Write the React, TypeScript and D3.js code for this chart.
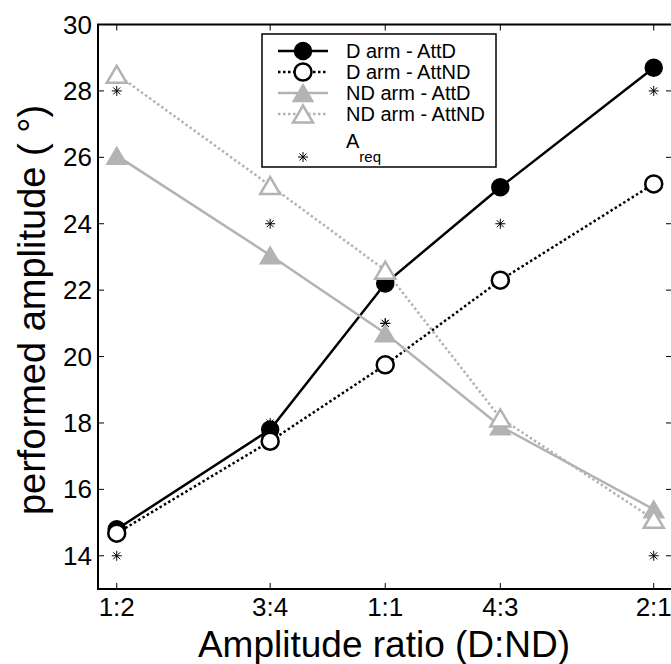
import { useMemo } from "react";
import * as d3 from "d3";

const ratioLabels = ["1:2", "3:4", "1:1", "4:3", "2:1"];
// D / (D + ND) for each ratio; the x axis is linear in this share
const ratioShare = [1 / 3, 3 / 7, 1 / 2, 4 / 7, 2 / 3];

const dArmAttD = [14.8, 17.8, 22.2, 25.1, 28.7];
const dArmAttND = [14.68, 17.45, 19.75, 22.3, 25.2];
const ndArmAttD = [26.05, 23.05, 20.7, 17.9, 15.4];
const ndArmAttND = [28.5, 25.15, 22.6, 18.15, 15.1];
const aReqLow = [14, 18, 21, 24, 28];
const aReqHigh = [28, 24, 21, 18, 14];

const yTicks = [14, 16, 18, 20, 22, 24, 26, 28, 30];

const GRAY = "#b3b3b3";
const FONT = "'Liberation Sans', Arial, Helvetica, sans-serif";

type Marker = "dot" | "circle" | "tri" | "triOpen" | "star";

function MarkerShape({ kind, x, y, color }: { kind: Marker; x: number; y: number; color: string }) {
  if (kind === "dot") return <circle cx={x} cy={y} r={8.5} fill={color} stroke={color} strokeWidth={1.5} />;
  if (kind === "circle") return <circle cx={x} cy={y} r={8.5} fill="#fff" stroke={color} strokeWidth={2.5} />;
  if (kind === "tri" || kind === "triOpen") {
    const h = 8.5;
    const w = 10;
    const p = `M${x},${y - h} L${x + w},${y + h} L${x - w},${y + h} Z`;
    return kind === "tri" ? (
      <path d={p} fill={color} stroke={color} strokeWidth={1.5} />
    ) : (
      <path d={p} fill="#fff" stroke={color} strokeWidth={2.5} />
    );
  }
  // asterisk
  const s = 5;
  return (
    <g stroke={color} strokeWidth={1}>
      <line x1={x - s} y1={y} x2={x + s} y2={y} />
      <line x1={x} y1={y - s} x2={x} y2={y + s} />
      <line x1={x - s * 0.7} y1={y - s * 0.7} x2={x + s * 0.7} y2={y + s * 0.7} />
      <line x1={x - s * 0.7} y1={y + s * 0.7} x2={x + s * 0.7} y2={y - s * 0.7} />
    </g>
  );
}

export default function App() {
  const left = 98;
  const right = 672;
  const top = 24.5;
  const bottom = 589;

  const x = useMemo(() => d3.scaleLinear().domain([0.3217, 0.678]).range([left, right]), []);
  const y = useMemo(() => d3.scaleLinear().domain([13, 30]).range([bottom, top]), []);

  const line = d3
    .line<number>()
    .x((_, i) => x(ratioShare[i]))
    .y((v) => y(v));

  const series: { name: string; values: number[]; color: string; dash?: string; marker: Marker }[] = [
    { name: "D arm - AttD", values: dArmAttD, color: "#000", marker: "dot" },
    { name: "D arm - AttND", values: dArmAttND, color: "#000", dash: "2.5 2.5", marker: "circle" },
    { name: "ND arm - AttD", values: ndArmAttD, color: GRAY, marker: "tri" },
    { name: "ND arm - AttND", values: ndArmAttND, color: GRAY, dash: "2.5 2.5", marker: "triOpen" },
  ];

  const tickLen = 6;
  const legX = 262;
  const legY = 34;
  const legW = 234;
  const legH = 133;
  const rowY = (i: number) => legY + 17 + i * 21;

  return (
    <svg
      width={671}
      height={664}
      style={{ position: "absolute", left: 0, top: 0, background: "#fff" }}
      fontFamily={FONT}
    >
      <rect width={671} height={664} fill="#fff" />

      {/* lines */}
      {series.map((s) => (
        <path
          key={s.name + "-line"}
          d={line(s.values) ?? ""}
          fill="none"
          stroke={s.color}
          strokeWidth={2.5}
          strokeDasharray={s.dash}
        />
      ))}
      {/* required amplitude */}
      {[aReqLow, aReqHigh].map((arr, k) =>
        arr.map((v, i) => (
          <MarkerShape key={`req-${k}-${i}`} kind="star" x={x(ratioShare[i])} y={y(v)} color="#000" />
        ))
      )}
      {/* markers */}
      {series.map((s) =>
        s.values.map((v, i) => (
          <MarkerShape key={`${s.name}-${i}`} kind={s.marker} x={x(ratioShare[i])} y={y(v)} color={s.color} />
        ))
      )}

      {/* axes box */}
      <rect x={left} y={top} width={right - left} height={bottom - top} fill="none" stroke="#000" strokeWidth={2} />
      {ratioShare.map((r, i) => (
        <g key={`xt-${i}`}>
          <line x1={x(r)} x2={x(r)} y1={bottom} y2={bottom - tickLen} stroke="#000" strokeWidth={1} />
          <line x1={x(r)} x2={x(r)} y1={top} y2={top + tickLen} stroke="#000" strokeWidth={1} />
          <text x={x(r)} y={bottom + 27} fontSize={26} textAnchor="middle" fill="#000">
            {ratioLabels[i]}
          </text>
        </g>
      ))}
      {yTicks.map((t) => (
        <g key={`yt-${t}`}>
          <line x1={left} x2={left + tickLen} y1={y(t)} y2={y(t)} stroke="#000" strokeWidth={1} />
          <line x1={right} x2={right - tickLen} y1={y(t)} y2={y(t)} stroke="#000" strokeWidth={1} />
          <text x={left - 6} y={y(t) + 9} fontSize={26} textAnchor="end" fill="#000">
            {t}
          </text>
        </g>
      ))}

      <text x={384} y={657} fontSize={37} textAnchor="middle" fill="#000">
        Amplitude ratio (D:ND)
      </text>
      <text transform="translate(45, 310) rotate(-90)" fontSize={38} textAnchor="middle" fill="#000">
        performed amplitude ( °)
      </text>

      {/* legend */}
      <rect x={legX} y={legY} width={legW} height={legH} fill="#fff" stroke="#000" strokeWidth={1.5} />
      {series.map((s, i) => (
        <g key={`leg-${i}`}>
          <line
            x1={legX + 16}
            x2={legX + 66}
            y1={rowY(i)}
            y2={rowY(i)}
            stroke={s.color}
            strokeWidth={2.5}
            strokeDasharray={s.dash}
          />
          <MarkerShape kind={s.marker} x={legX + 41} y={rowY(i)} color={s.color} />
          <text x={legX + 84} y={rowY(i) + 7} fontSize={20} fill="#000">
            {s.name}
          </text>
        </g>
      ))}
      <MarkerShape kind="star" x={legX + 41} y={legY + 123} color="#000" />
      <text x={legX + 84} y={legY + 114} fontSize={20} fill="#000">
        A
        <tspan fontSize={15} dy={14}>
          req
        </tspan>
      </text>
    </svg>
  );
}
